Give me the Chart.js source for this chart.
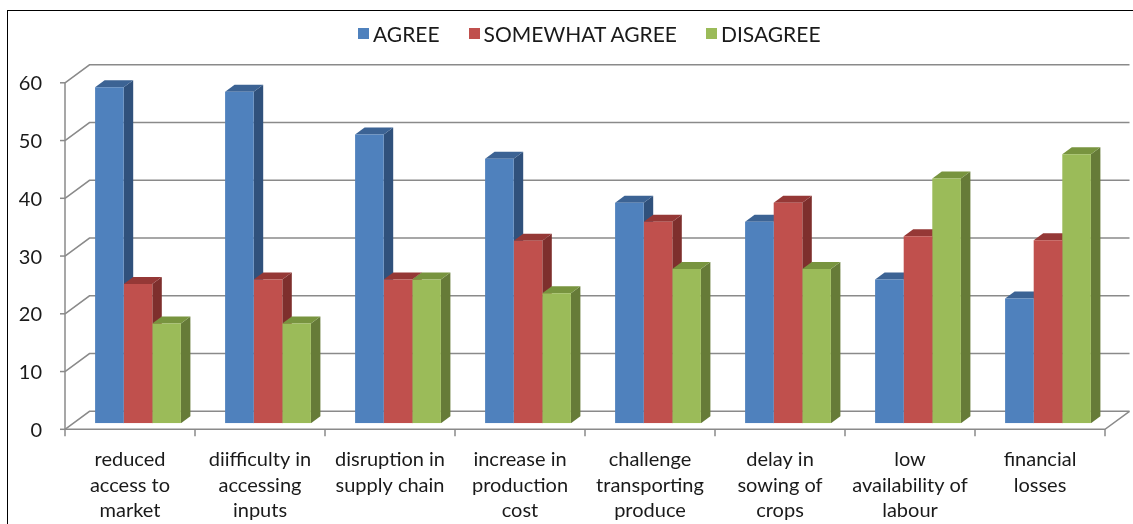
<!DOCTYPE html>
<html>
<head>
<meta charset="utf-8">
<script src="https://cdn.jsdelivr.net/npm/chart.js@4.4.0/dist/chart.umd.min.js"></script>
<style>
  body { margin: 0; background: #fff; font-family: Lato, sans-serif; }
  #wrap { position: relative; width: 1133px; height: 524px; overflow: hidden; }
  #frame { position: absolute; left: 7px; top: 10px; width: 1300px; height: 700px;
           border-left: 1px solid #000; border-top: 1px solid #000; }
  #legend { position: absolute; left: 358px; top: 21px; display: flex; align-items: center;
            font-size: 21px; color: #1a1a1a; }
  #legend .item { display: flex; align-items: center; margin-right: 29px; }
  #legend .sq { width: 11px; height: 11px; margin-right: 4px; }
  #myChart { position: absolute; left: 0; top: 0; }
</style>
</head>
<body>
<div id="wrap">
  <div id="frame"></div>
  <canvas id="myChart" width="1133" height="524"></canvas>
  <div id="legend"></div>
</div>
<script>
// categories (multi-line labels as in the original)
const categories = [
  ['reduced', 'access to', 'market'],
  ['diifficulty in', 'accessing', 'inputs'],
  ['disruption in', 'supply chain'],
  ['increase in', 'production', 'cost'],
  ['challenge', 'transporting', 'produce'],
  ['delay in', 'sowing of', 'crops'],
  ['low', 'availability of', 'labour'],
  ['financial', 'losses']
];
const seriesNames = ['AGREE', 'SOMEWHAT AGREE', 'DISAGREE'];
const agree = [58.2, 57.4, 50.0, 45.8, 38.2, 34.9, 24.9, 21.6];
const somewhatAgree = [24.1, 24.9, 24.9, 31.6, 34.9, 38.2, 32.4, 31.7];
const disagree = [17.3, 17.3, 24.9, 22.5, 26.7, 26.7, 42.4, 46.6];
const yTicks = [0, 10, 20, 30, 40, 50, 60];

// colours: front, side, top
const frontColors = ['#4f81bd', '#c0504d', '#9bbb59'];
const sideColors = ['#30517c', '#7e2f2d', '#667b38'];
const topColors = ['#3c6394', '#953836', '#78943f'];

// 3d offsets (px) relative to the bar plane
const FRONT = { dx: -8, dy: 6 };
const WALL = { dx: 24.5, dy: -18 };
const BAR = { dx: 9.5, dy: -7 };
const GRID = '#8a8a8a';

//LEGEND
function buildLegend() {
    let html = '';
    seriesNames.forEach((name, i) => {
        html += `<div class="item"><div class="sq" style="background:${frontColors[i]}"></div><span>${name}</span></div>`;
    });
    document.getElementById('legend').innerHTML = html;
}
buildLegend();

function line(ctx, pts) {
    ctx.beginPath();
    ctx.moveTo(pts[0][0], pts[0][1]);
    for (let k = 1; k < pts.length; k++) ctx.lineTo(pts[k][0], pts[k][1]);
    ctx.stroke();
}
function poly(ctx, pts, color) {
    ctx.beginPath();
    ctx.moveTo(pts[0][0], pts[0][1]);
    for (let k = 1; k < pts.length; k++) ctx.lineTo(pts[k][0], pts[k][1]);
    ctx.closePath();
    ctx.fillStyle = color;
    ctx.fill();
}

// walls, grid and bar sides
const depth3d = {
    id: 'depth3d',
    beforeDatasetsDraw(chart) {
        const { ctx, scales: { x, y } } = chart;
        const n = categories.length;
        const xf = x.left + FRONT.dx;
        const xr = x.right + FRONT.dx;
        const y0 = y.getPixelForValue(0) + FRONT.dy;
        ctx.save();
        ctx.strokeStyle = GRID;
        ctx.lineWidth = 1.5;
        yTicks.forEach((v) => {
            const yy = y.getPixelForValue(v) + FRONT.dy;
            line(ctx, [[xf, yy], [xf + WALL.dx, yy + WALL.dy], [xr + WALL.dx, yy + WALL.dy]]);
            line(ctx, [[xf - 5, yy], [xf, yy]]);
        });
        // front axis + floor edge
        line(ctx, [[xf, y.getPixelForValue(yTicks[yTicks.length - 1]) + FRONT.dy], [xf, y0], [xr, y0], [xr + WALL.dx, y0 + WALL.dy]]);
        for (let i = 0; i <= n; i++) {
            const bx = x.left + i * x.width / n + FRONT.dx;
            line(ctx, [[bx, y0], [bx, y0 + 7]]);
        }
        // side and top faces, drawn bar by bar so later fronts cover them
        for (let i = 0; i < n; i++) {
            chart.data.datasets.forEach((ds, d) => {
                const bar = chart.getDatasetMeta(d).data[i];
                const p = bar.getProps(['x', 'y', 'base', 'width'], true);
                const l = p.x - p.width / 2, r = p.x + p.width / 2;
                poly(ctx, [[r, p.y], [r + BAR.dx, p.y + BAR.dy], [r + BAR.dx, p.base + BAR.dy], [r, p.base]], sideColors[d]);
                poly(ctx, [[l, p.y], [r, p.y], [r + BAR.dx, p.y + BAR.dy], [l + BAR.dx, p.y + BAR.dy]], topColors[d]);
            });
        }
        ctx.restore();
    }
};

const tickFont = { family: 'Lato', size: 20, lineHeight: 1.27 };
const data = {
    labels: categories,
    datasets: [
        { label: seriesNames[0], data: agree, backgroundColor: frontColors[0] },
        { label: seriesNames[1], data: somewhatAgree, backgroundColor: frontColors[1] },
        { label: seriesNames[2], data: disagree, backgroundColor: frontColors[2] }
    ]
};
const config = {
    type: 'bar',
    data: data,
    options: {
        responsive: false,
        animation: false,
        layout: { padding: { top: 76.8, right: 20, left: 0, bottom: 0 } },
        datasets: { bar: { barPercentage: 1, categoryPercentage: 0.66, borderWidth: 0 } },
        plugins: { legend: { display: false }, tooltip: { enabled: false } },
        scales: {
            x: {
                grid: { display: false },
                border: { display: false },
                afterFit(scale) { scale.height = 100.7; },
                ticks: { font: tickFont, color: '#1a1a1a', padding: 16, labelOffset: FRONT.dx,
                         maxRotation: 0, autoSkip: false }
            },
            y: {
                min: 0, max: 60,
                grid: { display: false },
                border: { display: false },
                afterFit(scale) { scale.width = 73; },
                ticks: { stepSize: 10, font: tickFont, color: '#1a1a1a', padding: 23, labelOffset: FRONT.dy + 1 }
            }
        }
    },
    plugins: [depth3d]
};
const myChart = new Chart(document.getElementById('myChart'), config);
</script>
</body>
</html>
